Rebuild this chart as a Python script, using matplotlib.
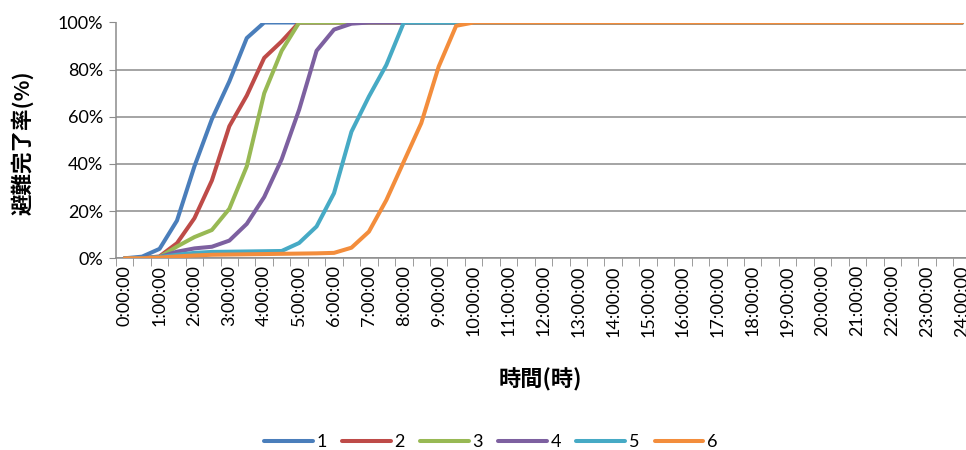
import matplotlib.pyplot as plt
import matplotlib.ticker as mticker
from matplotlib.lines import Line2D

# DADOS (porcentagem de evacuacao concluida a cada 30 min)
hour_labels = ["0:00:00", "1:00:00", "2:00:00", "3:00:00", "4:00:00", "5:00:00",
               "6:00:00", "7:00:00", "8:00:00", "9:00:00", "10:00:00", "11:00:00",
               "12:00:00", "13:00:00", "14:00:00", "15:00:00", "16:00:00", "17:00:00",
               "18:00:00", "19:00:00", "20:00:00", "21:00:00", "22:00:00", "23:00:00",
               "24:00:00"]

series_names = ["1", "2", "3", "4", "5", "6"]

s1 = [0, 0.7, 4, 16, 39, 59, 75, 93.4, 100, 100, 100, 100, 100, 100, 100, 100, 100,
      100, 100, 100, 100, 100, 100, 100, 100, 100, 100, 100, 100, 100, 100, 100, 100,
      100, 100, 100, 100, 100, 100, 100, 100, 100, 100, 100, 100, 100, 100, 100, 100]
s2 = [0, 0, 0.8, 6.4, 17, 33, 56, 69, 85, 92, 100, 100, 100, 100, 100, 100, 100,
      100, 100, 100, 100, 100, 100, 100, 100, 100, 100, 100, 100, 100, 100, 100, 100,
      100, 100, 100, 100, 100, 100, 100, 100, 100, 100, 100, 100, 100, 100, 100, 100]
s3 = [0, 0, 0.5, 5, 9, 12, 21, 39, 70, 88, 100, 100, 100, 100, 100, 100, 100,
      100, 100, 100, 100, 100, 100, 100, 100, 100, 100, 100, 100, 100, 100, 100, 100,
      100, 100, 100, 100, 100, 100, 100, 100, 100, 100, 100, 100, 100, 100, 100, 100]
s4 = [0, 0, 0.5, 2.8, 4.2, 4.9, 7.5, 14.6, 26, 42, 63, 88, 97, 99.5, 100, 100, 100,
      100, 100, 100, 100, 100, 100, 100, 100, 100, 100, 100, 100, 100, 100, 100, 100,
      100, 100, 100, 100, 100, 100, 100, 100, 100, 100, 100, 100, 100, 100, 100, 100]
s5 = [0, 0, 0.5, 1.5, 2.3, 2.7, 2.8, 2.9, 3, 3.1, 6.5, 13.5, 27.6, 53.7, 68.6, 82, 100,
      100, 100, 100, 100, 100, 100, 100, 100, 100, 100, 100, 100, 100, 100, 100, 100,
      100, 100, 100, 100, 100, 100, 100, 100, 100, 100, 100, 100, 100, 100, 100, 100]
s6 = [0, 0, 0.3, 0.8, 1.2, 1.5, 1.6, 1.7, 1.8, 1.9, 2, 2.1, 2.3, 4.5, 11.3, 24.7, 41,
      57.3, 81.3, 98.6, 100, 100, 100, 100, 100, 100, 100, 100, 100, 100, 100, 100, 100,
      100, 100, 100, 100, 100, 100, 100, 100, 100, 100, 100, 100, 100, 100, 100, 100]

colors = ["#4A7EBB", "#BE4B48", "#98B954", "#7D60A0", "#46AAC5", "#F38D3C"]

# CONFIGURACOES DO MATPLOTLIB
plt.rcParams["font.family"] = ["Lato", "DejaVu Sans"]
grid_color = "#8C8C8C"

fig = plt.figure(figsize=(9.66, 4.5), dpi=100)
ax = fig.add_axes([0.120, 0.426, 0.885, 0.524])

all_series = [s1, s2, s3, s4, s5, s6]
for name, values, color in zip(series_names, all_series, colors):
    x = list(range(len(values)))
    ax.plot(x, [v / 100 for v in values], color=color, linewidth=2.9,
            solid_capstyle="round", solid_joinstyle="round", label=name, zorder=3)

n = len(s1)
ax.set_xlim(-0.5, n - 0.5)
ax.set_ylim(0, 1)

# eixo y
ax.yaxis.set_major_locator(mticker.MultipleLocator(0.2))
ax.yaxis.set_major_formatter(mticker.PercentFormatter(1.0, decimals=0))
ax.grid(axis="y", color=grid_color, linewidth=1.1, zorder=1)
ax.tick_params(axis="y", direction="out", length=5, color=grid_color,
               labelsize=13, pad=4)

# eixo x: rotulo a cada hora, marcas entre categorias
ax.set_xticks(range(0, n, 2))
ax.set_xticklabels(hour_labels, rotation=90, fontsize=13)
ax.set_xticks([i - 0.5 for i in range(n + 1)], minor=True)
ax.tick_params(axis="x", which="major", length=0, pad=5)
ax.tick_params(axis="x", which="minor", direction="out", length=6, color=grid_color)

for side in ["top", "right"]:
    ax.spines[side].set_visible(False)
for side in ["left", "bottom"]:
    ax.spines[side].set_color(grid_color)
    ax.spines[side].set_linewidth(1.1)

# titulos dos eixos
cjk = ["Noto Sans CJK JP", "DejaVu Sans"]
fig.text(0.023, 0.684, "避難完了率(%)", family=cjk, fontsize=15.5, fontweight="bold",
         rotation=90, ha="center", va="center")
fig.text(0.559, 0.156, "時間(時)", family=cjk, fontsize=16, fontweight="bold",
         ha="center", va="center")

handles = [Line2D([], [], color=c, linewidth=2.9, solid_capstyle="round") for c in colors]
fig.legend(handles, series_names, loc="center", bbox_to_anchor=(0.508, 0.018),
           ncol=6, frameon=False, fontsize=13, handlelength=2.7,
           handletextpad=0.2, columnspacing=0.85)

fig.savefig("out.png", dpi=100)
